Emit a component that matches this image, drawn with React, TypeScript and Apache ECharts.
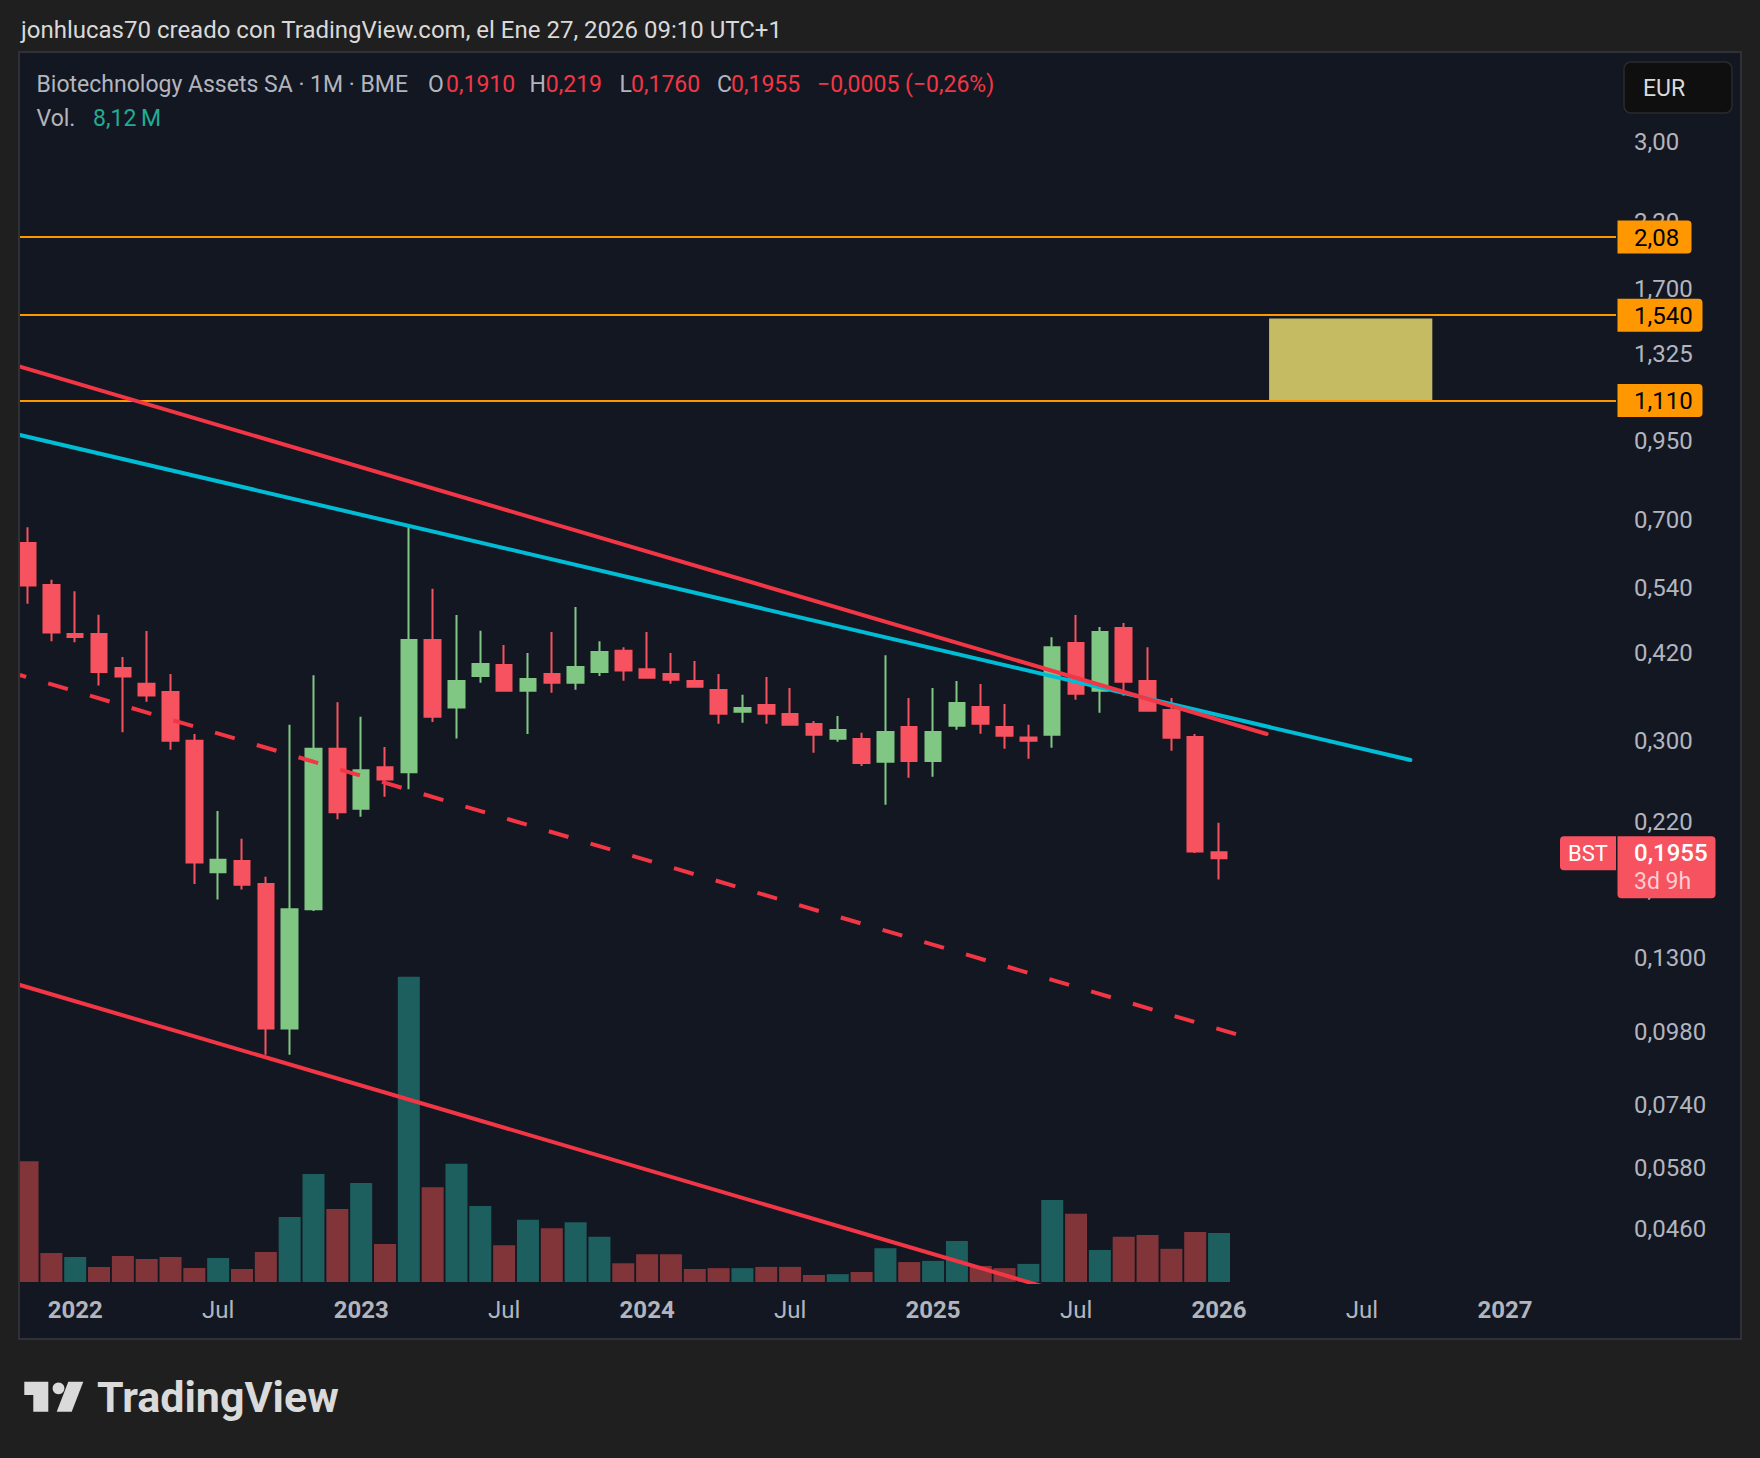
import React, { useEffect, useRef } from "react";
import * as echarts from "echarts";

// ---------- data ----------
const dates = [
  "2021-11", "2021-12",
  "2022-01", "2022-02", "2022-03", "2022-04", "2022-05", "2022-06", "2022-07", "2022-08", "2022-09", "2022-10", "2022-11", "2022-12",
  "2023-01", "2023-02", "2023-03", "2023-04", "2023-05", "2023-06", "2023-07", "2023-08", "2023-09", "2023-10", "2023-11", "2023-12",
  "2024-01", "2024-02", "2024-03", "2024-04", "2024-05", "2024-06", "2024-07", "2024-08", "2024-09", "2024-10", "2024-11", "2024-12",
  "2025-01", "2025-02", "2025-03", "2025-04", "2025-05", "2025-06", "2025-07", "2025-08", "2025-09", "2025-10", "2025-11", "2025-12",
  "2026-01",
];
const opens = [0.642, 0.546, 0.447, 0.4525, 0.397, 0.3735, 0.362, 0.3, 0.181, 0.189, 0.173, 0.0993, 0.157, 0.291, 0.231, 0.271, 0.2658, 0.442, 0.341, 0.385, 0.4016, 0.3638, 0.388, 0.375, 0.391, 0.424, 0.395, 0.388, 0.3776, 0.3647, 0.3356, 0.3443, 0.3326, 0.3201, 0.3025, 0.3021, 0.2769, 0.3164, 0.2777, 0.318, 0.3416, 0.3164, 0.3, 0.3072, 0.4369, 0.3638, 0.4628, 0.3776, 0.3377, 0.3044, 0.191];
const highs = [0.682, 0.557, 0.533, 0.487, 0.414, 0.4575, 0.388, 0.308, 0.229, 0.206, 0.178, 0.319, 0.386, 0.348, 0.329, 0.293, 0.683, 0.538, 0.4866, 0.458, 0.4335, 0.4205, 0.456, 0.502, 0.44, 0.43, 0.456, 0.4205, 0.4077, 0.388, 0.358, 0.3834, 0.3675, 0.3238, 0.3301, 0.3096, 0.417, 0.3537, 0.3675, 0.3776, 0.3732, 0.3456, 0.319, 0.4466, 0.4866, 0.4646, 0.4718, 0.4297, 0.3537, 0.308, 0.219];
const lows = [0.508, 0.44, 0.438, 0.371, 0.31, 0.3486, 0.29, 0.173, 0.163, 0.1695, 0.0898, 0.0898, 0.156, 0.222, 0.224, 0.242, 0.249, 0.3225, 0.3027, 0.375, 0.3625, 0.308, 0.361, 0.365, 0.385, 0.378, 0.382, 0.3737, 0.368, 0.3204, 0.3217, 0.3204, 0.319, 0.2866, 0.299, 0.2724, 0.2347, 0.2604, 0.2614, 0.3131, 0.3083, 0.2911, 0.28, 0.2922, 0.3514, 0.3343, 0.3568, 0.3356, 0.2888, 0.195, 0.176];
const closes = [0.545, 0.455, 0.4525, 0.391, 0.384, 0.357, 0.3, 0.188, 0.19, 0.1726, 0.0993, 0.157, 0.291, 0.228, 0.268, 0.2585, 0.442, 0.329, 0.3775, 0.403, 0.3638, 0.3805, 0.375, 0.3985, 0.422, 0.393, 0.3824, 0.3795, 0.3694, 0.333, 0.3403, 0.333, 0.3192, 0.3072, 0.3128, 0.2755, 0.3104, 0.2777, 0.3104, 0.3469, 0.3204, 0.306, 0.304, 0.4297, 0.3596, 0.4559, 0.3765, 0.3368, 0.3036, 0.196, 0.1955];
// volume in millions
const volumes = [20.0, 4.8, 4.14, 2.49, 4.31, 3.81, 4.14, 2.32, 3.98, 2.15, 4.97, 10.77, 17.9, 12.1, 16.4, 6.3, 50.6, 15.7, 19.6, 12.6, 6.1, 10.3, 8.9, 9.9, 7.5, 3.1, 4.6, 4.6, 2.15, 2.3, 2.3, 2.5, 2.5, 1.16, 1.3, 1.66, 5.6, 3.3, 3.5, 6.8, 2.65, 2.3, 3.0, 13.6, 11.3, 5.3, 7.5, 7.8, 5.5, 8.3, 8.12];

const priceTicks = [3, 2.2, 1.7, 1.325, 0.95, 0.7, 0.54, 0.42, 0.3, 0.22, 0.17, 0.13, 0.098, 0.074, 0.058, 0.046];
const priceTickLabels = ["3,00", "2,20", "1,700", "1,325", "0,950", "0,700", "0,540", "0,420", "0,300", "0,220", "0,1700", "0,1300", "0,0980", "0,0740", "0,0580", "0,0460"];

// months counted from Jan 2022
const timeTicks = [0, 6, 12, 18, 24, 30, 36, 42, 48, 54, 60];
const timeTickLabels = ["2022", "Jul", "2023", "Jul", "2024", "Jul", "2025", "Jul", "2026", "Jul", "2027"];

const levels = [2.08, 1.54, 1.11];
const levelLabels = ["2,08", "1,540", "1,110"];

const zoneMonths = [50.1, 56.95];
const zonePrices = [1.52, 1.11];

// trend lines: [monthFromJan2022, price]
const trendUpperRed = [[-2.32, 1.2635], [50.0, 0.308]];
const trendCyan = [[-2.32, 0.9719], [56.03, 0.2787]];
const trendDashed = [[-2.32, 0.3864], [49.27, 0.0957]];
const trendLowerRed = [[-2.32, 0.1174], [42, 0.0355]];

const lastPrice = 0.1955;
const lastPriceText = "0,1955";
const lastPriceTimer = "3d 9h";

const headerLine = "jonhlucas70 creado con TradingView.com, el Ene 27, 2026 09:10 UTC+1";
const legendParts = [
  { t: "Biotechnology Assets SA · 1M · BME", x: 36.5, k: "g" },
  { t: "O", x: 428, k: "g" },
  { t: "0,1910", x: 446, k: "r" },
  { t: "H", x: 529.6, k: "g" },
  { t: "0,219", x: 545.8, k: "r" },
  { t: "L", x: 619.4, k: "g" },
  { t: "0,1760", x: 631, k: "r" },
  { t: "C", x: 717, k: "g" },
  { t: "0,1955", x: 731, k: "r" },
  { t: "−0,0005 (−0,26%)", x: 817, k: "r" },
];
const volParts = [
  { t: "Vol.", x: 36.5, k: "g" },
  { t: "8,12\u2009M", x: 93, k: "t" },
];

// ---------- layout / style ----------
const W = 1760;
const H = 1458;
const X_MIN = -2.3164;
const X_MAX = 64.658;
const Y_MIN = 0.037488;
const Y_MAX = 4.2024;
const VOL_MAX = 203.5;
const FONT = "Roboto";

const UP = "#81C784";
const DOWN = "#F7525F";
const VOL_UP = "#1D5E5E";
const VOL_DOWN = "#823539";
const AXIS_TXT = "#B2B5BE";
const PANEL = "#131722";
const OUTER = "#1F1F1F";

const monthIndex = (d: string) => {
  const [y, m] = d.split("-").map(Number);
  return (y - 2022) * 12 + (m - 1);
};

const priceLabel = (v: number) => {
  let best = 0;
  let bd = Infinity;
  priceTicks.forEach((t, i) => {
    const d = Math.abs(Math.log(t) - Math.log(v));
    if (d < bd) {
      bd = d;
      best = i;
    }
  });
  return priceTickLabels[best];
};

const timeLabel = (v: number) => {
  let best = 0;
  let bd = Infinity;
  timeTicks.forEach((t, i) => {
    const d = Math.abs(t - v);
    if (d < bd) {
      bd = d;
      best = i;
    }
  });
  const s = timeTickLabels[best];
  return /^\d+$/.test(s) ? `{y|${s}}` : `{m|${s}}`;
};

function buildOption(): any {
  const candleData = dates.map((d, i) => {
    const prev = i > 0 ? closes[i - 1] : opens[i];
    const col = closes[i] >= prev ? UP : DOWN;
    return {
      value: [monthIndex(d), opens[i], closes[i], lows[i], highs[i]],
      itemStyle: { color: col, color0: col, borderColor: col, borderColor0: col, borderColorDoji: col },
    };
  });
  const volData = dates.map((d, i) => ({
    value: [monthIndex(d), volumes[i]],
    itemStyle: { color: closes[i] >= opens[i] ? VOL_UP : VOL_DOWN },
  }));

  return {
    animation: false,
    backgroundColor: PANEL,
    textStyle: { fontFamily: FONT },
    grid: { left: 20, top: 54, right: W - 1616, bottom: H - 1282 },
    xAxis: {
      type: "value",
      min: X_MIN,
      max: X_MAX,
      axisLine: { show: false },
      axisTick: { show: false },
      splitLine: { show: false },
      axisLabel: {
        customValues: timeTicks,
        formatter: timeLabel,
        margin: 16,
        color: AXIS_TXT,
        fontSize: 24,
        rich: {
          y: { fontFamily: FONT, fontSize: 24, fontWeight: "bold", color: AXIS_TXT },
          m: { fontFamily: FONT, fontSize: 24, fontWeight: "normal", color: AXIS_TXT },
        },
      },
    },
    yAxis: [
      {
        type: "log",
        logBase: 10,
        position: "right",
        min: Y_MIN,
        max: Y_MAX,
        axisLine: { show: false },
        axisTick: { show: false },
        splitLine: { show: false },
        axisLabel: {
          customValues: priceTicks,
          formatter: priceLabel,
          color: AXIS_TXT,
          fontSize: 24,
          fontFamily: FONT,
          margin: 18,
          align: "left",
        },
      },
      { type: "value", min: 0, max: VOL_MAX, show: false },
    ],
    series: [
      {
        type: "bar",
        name: "vol",
        xAxisIndex: 0,
        yAxisIndex: 1,
        barWidth: 22,
        data: volData,
        z: 1,
        silent: true,
      },
      {
        type: "candlestick",
        name: "price",
        xAxisIndex: 0,
        yAxisIndex: 0,
        barWidth: 16,
        itemStyle: { borderWidth: 2 },
        data: candleData,
        z: 3,
        silent: true,
        markArea: {
          silent: true,
          itemStyle: { color: "#C4BB63", opacity: 1 },
          data: [[{ coord: [zoneMonths[0], zonePrices[0]] }, { coord: [zoneMonths[1], zonePrices[1]] }]],
        },
        markLine: {
          silent: true,
          symbol: ["none", "none"],
          label: { show: false },
          lineStyle: { color: "#FF9800", width: 2, type: "solid", opacity: 1 },
          data: levels.map((v) => ({ yAxis: v })),
        },
      },
      {
        type: "line",
        data: trendCyan,
        symbol: "none",
        silent: true,
        z: 6,
        lineStyle: { color: "#00BCD4", width: 4, cap: "round" },
      },
      {
        type: "line",
        data: trendUpperRed,
        symbol: "none",
        silent: true,
        z: 7,
        lineStyle: { color: "#F23645", width: 4, cap: "round" },
      },
      {
        type: "line",
        data: trendDashed,
        symbol: "none",
        silent: true,
        z: 6,
        lineStyle: { color: "#F23645", width: 4, type: [20.5, 23], dashOffset: 14 },
      },
      {
        type: "line",
        data: trendLowerRed,
        symbol: "none",
        silent: true,
        z: 6,
        lineStyle: { color: "#F23645", width: 4, cap: "round" },
      },
    ],
  };
}

function buildGraphics(py: (v: number) => number): any[] {
  const els: any[] = [];
  // outer frame
  els.push({ type: "rect", z: 50, shape: { x: 0, y: 0, width: W, height: 52 }, style: { fill: OUTER } });
  els.push({ type: "rect", z: 50, shape: { x: 0, y: 1339, width: W, height: H - 1339 }, style: { fill: OUTER } });
  els.push({ type: "rect", z: 50, shape: { x: 0, y: 0, width: 19, height: H }, style: { fill: OUTER } });
  els.push({ type: "rect", z: 50, shape: { x: 1741, y: 0, width: W - 1741, height: H }, style: { fill: OUTER } });
  els.push({
    type: "rect",
    z: 51,
    shape: { x: 19, y: 52, width: 1722, height: 1287 },
    style: { fill: "transparent", stroke: "#2F3137", lineWidth: 2 },
  });

  // header
  els.push({
    type: "text",
    z: 60,
    x: 21,
    y: 30,
    style: { text: headerLine, fill: "#D9D9D9", fontFamily: FONT, fontSize: 24, verticalAlign: "middle", align: "left" },
  });
  const colOf = (k: string) => (k === "r" ? "#F23645" : k === "t" ? "#22AB94" : AXIS_TXT);
  legendParts.forEach((p) =>
    els.push({
      type: "text",
      z: 60,
      x: p.x,
      y: 84,
      style: { text: p.t, fill: colOf(p.k), fontFamily: FONT, fontSize: 23, verticalAlign: "middle", align: "left" },
    })
  );
  volParts.forEach((p) =>
    els.push({
      type: "text",
      z: 60,
      x: p.x,
      y: 118,
      style: { text: p.t, fill: colOf(p.k), fontFamily: FONT, fontSize: 23, verticalAlign: "middle", align: "left" },
    })
  );

  // EUR button
  els.push({
    type: "rect",
    z: 60,
    shape: { x: 1624, y: 62, width: 108, height: 51, r: 7 },
    style: { fill: "#0F0F0F", stroke: "#2B2B2B", lineWidth: 1.5 },
  });
  els.push({
    type: "text",
    z: 61,
    x: 1643,
    y: 88,
    style: { text: "EUR", fill: "#DBDBDB", fontFamily: FONT, fontSize: 23, verticalAlign: "middle", align: "left" },
  });

  // level price labels
  levels.forEach((v, i) => {
    const y = py(v);
    const w = levelLabels[i].length > 4 ? 85 : 74;
    els.push({
      type: "rect",
      z: 70,
      shape: { x: 1617.5, y: y - 16.5, width: w, height: 33, r: [0, 4, 4, 0] },
      style: { fill: "#FF9800" },
    });
    els.push({
      type: "text",
      z: 71,
      x: 1634,
      y: y + 1,
      style: { text: levelLabels[i], fill: "#000000", fontFamily: FONT, fontSize: 24, verticalAlign: "middle", align: "left" },
    });
  });

  // last price label
  const ly = py(lastPrice);
  els.push({
    type: "rect",
    z: 70,
    shape: { x: 1617.5, y: ly - 16, width: 98, height: 62, r: [0, 4, 4, 4] },
    style: { fill: DOWN },
  });
  els.push({
    type: "text",
    z: 71,
    x: 1634,
    y: ly + 1,
    style: { text: lastPriceText, fill: "#FFFFFF", fontFamily: FONT, fontSize: 24, fontWeight: 500, verticalAlign: "middle", align: "left" },
  });
  els.push({
    type: "text",
    z: 71,
    x: 1634,
    y: ly + 29,
    style: { text: lastPriceTimer, fill: "rgba(255,255,255,0.72)", fontFamily: FONT, fontSize: 23, verticalAlign: "middle", align: "left" },
  });
  els.push({
    type: "rect",
    z: 70,
    shape: { x: 1560, y: ly - 16, width: 56, height: 34, r: [4, 0, 0, 4] },
    style: { fill: DOWN },
  });
  els.push({
    type: "text",
    z: 71,
    x: 1588,
    y: ly + 1.5,
    style: { text: "BST", fill: "#FFFFFF", fontFamily: FONT, fontSize: 22, verticalAlign: "middle", align: "center" },
  });

  // TradingView logo
  const LOGO = "#DADADA";
  els.push({
    type: "polygon",
    z: 60,
    shape: { points: [[24.3, 1381.7], [48.3, 1381.7], [48.3, 1411.7], [33.3, 1411.7], [33.3, 1395], [24.3, 1395]] },
    style: { fill: LOGO },
  });
  els.push({ type: "circle", z: 60, shape: { cx: 58.5, cy: 1388.3, r: 5.9 }, style: { fill: LOGO } });
  els.push({
    type: "polygon",
    z: 60,
    shape: { points: [[68.3, 1381.7], [83.3, 1381.7], [71.7, 1411.7], [56.7, 1411.7]] },
    style: { fill: LOGO },
  });
  els.push({
    type: "text",
    z: 60,
    x: 97,
    y: 1397,
    style: { text: "TradingView", fill: LOGO, fontFamily: FONT, fontSize: 43, fontWeight: "bold", verticalAlign: "middle", align: "left" },
  });
  return els;
}

export default function App() {
  const ref = useRef<HTMLDivElement>(null);
  useEffect(() => {
    if (!ref.current) return;
    const chart = echarts.init(ref.current, null, { renderer: "svg", width: W, height: H });
    chart.setOption(buildOption());
    const py = (v: number) => chart.convertToPixel({ yAxisIndex: 0 } as any, v) as unknown as number;
    chart.setOption({ graphic: { elements: buildGraphics(py) } });
    return () => chart.dispose();
  }, []);
  return <div ref={ref} style={{ position: "fixed", left: 0, top: 0, width: W, height: H }} />;
}
